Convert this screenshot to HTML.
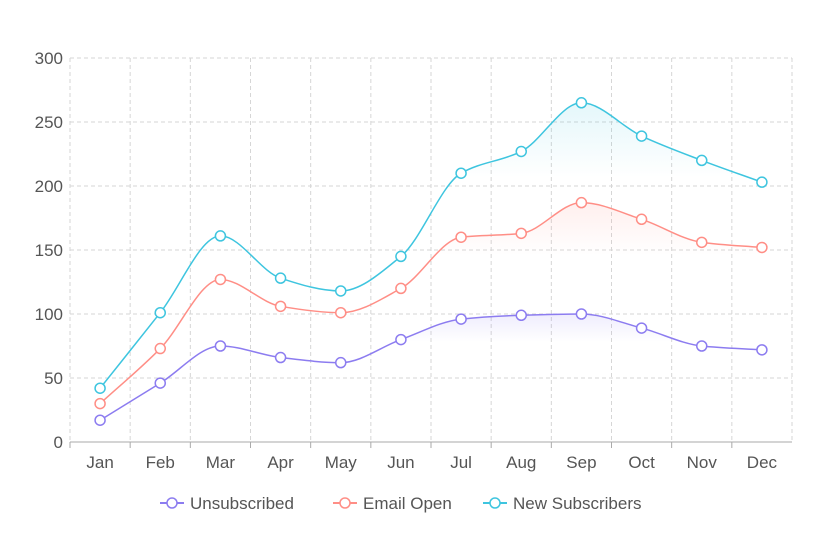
<!DOCTYPE html>
<html><head><meta charset="utf-8"><style>
body{margin:0;background:#fff;width:818px;height:545px;overflow:hidden}
svg{display:block;font-family:"Liberation Sans",sans-serif}
</style></head><body>
<svg id="chart" width="818" height="545" viewBox="0 0 818 545"></svg>
<script>
const categories=["Jan","Feb","Mar","Apr","May","Jun","Jul","Aug","Sep","Oct","Nov","Dec"];
const unsubscribed=[17,46,75,66,62,80,96,99,100,89,75,72];
const emailOpen=[30,73,127,106,101,120,160,163,187,174,156,152];
const newSubscribers=[42,101,161,128,118,145,210,227,265,239,220,203];
const yTicks=[0,50,100,150,200,250,300];
const seriesNames=["Unsubscribed","Email Open","New Subscribers"];
const seriesColors=["#8c7cf0","#ff8e86","#3ec5df"];
const seriesData=[unsubscribed,emailOpen,newSubscribers];

const NS="http://www.w3.org/2000/svg";
const svg=document.getElementById('chart');
const L=70,R=792,T=58,B=442;
const bw=(R-L)/categories.length;
const x=i=>L+bw*(i+0.5);
const y=v=>B-(v/300)*(B-T);
function el(t,a,p){const e=document.createElementNS(NS,t);for(const k in a)e.setAttribute(k,a[k]);(p||svg).appendChild(e);return e;}

const defs=el('defs',{});
seriesColors.forEach((c,i)=>{
  const g=el('linearGradient',{id:'g'+i,x1:0,y1:0,x2:0,y2:1},defs);
  el('stop',{offset:'0','stop-color':c,'stop-opacity':0.14},g);
  el('stop',{offset:'0.22','stop-color':c,'stop-opacity':0},g);
});

const grid=el('g',{});


yTicks.forEach(v=>{
  if(v>0){el('line',{x1:L,x2:R,y1:y(v),y2:y(v),stroke:'#d6d6d6','stroke-dasharray':'4 3'},grid);}
  const t=el('text',{x:63,y:y(v)+6,'text-anchor':'end','font-size':17,fill:'#555'});
  t.textContent=v;
  
  
});
for(let i=0;i<=categories.length;i++){
  el('line',{x1:L+bw*i,x2:L+bw*i,y1:T,y2:B,stroke:'#d6d6d6','stroke-dasharray':'4 3'},grid);
}
const ax=el('line',{x1:L,x2:R,y1:B,y2:B,stroke:'#aaa'});


categories.forEach((c,i)=>{
  el('line',{x1:L+bw*i,x2:L+bw*i,y1:B,y2:B+6,stroke:'#aaa'});
  const t=el('text',{x:x(i),y:468,'text-anchor':'middle','font-size':17,fill:'#555'});
  t.textContent=c;
  
  
});

function monotonePath(pts){
  const n=pts.length,d=[],m=[];
  for(let i=0;i<n-1;i++)d.push((pts[i+1][1]-pts[i][1])/(pts[i+1][0]-pts[i][0]));
  m[0]=d[0];m[n-1]=d[n-2];
  for(let i=1;i<n-1;i++){m[i]=(d[i-1]*d[i]<=0)?0:2/(1/d[i-1]+1/d[i]);}
  let s=`M${pts[0][0]},${pts[0][1]}`;
  for(let i=0;i<n-1;i++){const h=(pts[i+1][0]-pts[i][0])/3;
    s+=` C${pts[i][0]+h},${pts[i][1]+m[i]*h} ${pts[i+1][0]-h},${pts[i+1][1]-m[i+1]*h} ${pts[i+1][0]},${pts[i+1][1]}`;}
  return s;
}
seriesData.forEach((data,si)=>{
  const g=el('g',{});
  
  
  const pts=data.map((v,i)=>[x(i),y(v)]);
  const p=monotonePath(pts);
  el('path',{d:p+` L${x(data.length-1)},${B} L${x(0)},${B} Z`,fill:`url(#g${si})`},g);
  el('path',{d:p,fill:'none',stroke:seriesColors[si],'stroke-width':1.5},g);
  pts.forEach(q=>{
    const c=el('circle',{cx:q[0],cy:q[1],r:5,fill:'#fff',stroke:seriesColors[si],'stroke-width':1.5},g);
    
    
  });
});
const lx=[160,333,483];
seriesNames.forEach((n,i)=>{
  const g=el('g',{});
  
  
  el('line',{x1:lx[i],x2:lx[i]+24,y1:503,y2:503,stroke:seriesColors[i],'stroke-width':2},g);
  el('circle',{cx:lx[i]+12,cy:503,r:5,fill:'#fff',stroke:seriesColors[i],'stroke-width':1.5},g);
  const t=el('text',{x:lx[i]+30,y:509,'font-size':17,fill:'#555'},g);
  t.textContent=n;
});
</script>
</body></html>
